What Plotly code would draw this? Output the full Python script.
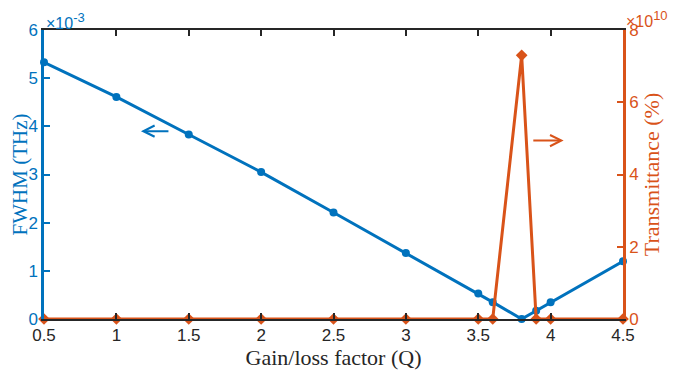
import plotly.graph_objects as go

q_fwhm = [0.5, 1, 1.5, 2, 2.5, 3, 3.5, 3.6, 3.8, 3.9, 4, 4.5]
fwhm = [5.33, 4.61, 3.83, 3.05, 2.21, 1.37, 0.53, 0.35, 0.0, 0.17, 0.35, 1.20]  # x1e-3 THz

q_trans = [0.5, 1, 1.5, 2, 2.5, 3, 3.5, 3.6, 3.8, 3.9, 4, 4.5]
trans = [0, 0, 0, 0, 0, 0, 0, 0, 7.3, 0, 0, 0]  # x1e10 %

x_ticks = [0.5, 1, 1.5, 2, 2.5, 3, 3.5, 4, 4.5]
y1_ticks = [0, 1, 2, 3, 4, 5, 6]
y2_ticks = [0, 2, 4, 6, 8]

BLUE = "#0072BD"
ORANGE = "#D95319"
tick_font = dict(family="Liberation Sans, Arial", size=17)
serif = "Liberation Serif, Times New Roman"

fig = go.Figure()
fig.add_trace(go.Scatter(x=q_fwhm, y=fwhm, mode="lines+markers",
                         line=dict(color=BLUE, width=3),
                         marker=dict(symbol="circle", size=8, color=BLUE),
                         yaxis="y", showlegend=False, cliponaxis=False))
fig.add_trace(go.Scatter(x=q_trans, y=trans, mode="lines+markers",
                         line=dict(color=ORANGE, width=3),
                         marker=dict(symbol="diamond", size=9, color=ORANGE),
                         yaxis="y2", showlegend=False, cliponaxis=False))

# the page body adds an 8px offset; margins compensate for it
fig.update_layout(
    width=685, height=371,
    margin=dict(l=36, r=70, t=22, b=60),
    paper_bgcolor="white", plot_bgcolor="white",
    xaxis=dict(range=[0.5, 4.5], tickvals=x_ticks, ticktext=[f"{v:g}" for v in x_ticks],
               showgrid=False, zeroline=False, showline=True, linecolor="#262626",
               linewidth=2, mirror="ticks", ticks="inside", ticklen=6, tickwidth=2,
               tickcolor="#262626", tickfont=dict(color="#262626", **tick_font),
               automargin=False,
               title=dict(text="Gain/loss factor (Q)",
                          font=dict(color="#262626", family=serif, size=22), standoff=0)),
    yaxis=dict(range=[0, 6], tickvals=y1_ticks, showgrid=False, zeroline=False,
               showline=True, linecolor=BLUE, linewidth=2.5, ticks="inside", ticklen=6,
               tickwidth=2, tickcolor=BLUE, tickfont=dict(color=BLUE, **tick_font),
               automargin=False,
               title=dict(text="FWHM (THz)", font=dict(color=BLUE, family=serif, size=21),
                          standoff=3)),
    yaxis2=dict(range=[0, 8], tickvals=y2_ticks, overlaying="y", side="right",
                showgrid=False, zeroline=False, showline=True, linecolor=ORANGE,
                linewidth=2.5, ticks="inside", ticklen=6, tickwidth=2, tickcolor=ORANGE,
                tickfont=dict(color=ORANGE, **tick_font), automargin=False,
                title=dict(text="Transmittance (%)",
                           font=dict(color=ORANGE, family=serif, size=22), standoff=4)),
    annotations=[
        dict(text='×10<sup><span style="font-size:13px">-3</span></sup>',
             xref="paper", yref="paper", x=0, y=1.0,
             xanchor="left", yanchor="top", showarrow=False, yshift=22, xshift=0,
             font=dict(color=BLUE, family="Liberation Sans, Arial", size=16)),
        dict(text='×10<sup><span style="font-size:13px">10</span></sup>',
             xref="paper", yref="paper", x=1.0, y=1.0,
             xanchor="left", yanchor="top", showarrow=False, yshift=24, xshift=1,
             font=dict(color=ORANGE, family="Liberation Sans, Arial", size=16)),
        dict(x=1.17, y=3.9, ax=1.37, ay=3.9, xref="x", yref="y", axref="x", ayref="y",
             showarrow=True, arrowhead=5, arrowsize=1.1, arrowwidth=2, arrowcolor=BLUE, text=""),
        dict(x=4.09, y=4.94, ax=3.87, ay=4.94, xref="x", yref="y2", axref="x", ayref="y2",
             showarrow=True, arrowhead=5, arrowsize=1.1, arrowwidth=2, arrowcolor=ORANGE, text=""),
    ],
)

fig.write_html("out.html")
